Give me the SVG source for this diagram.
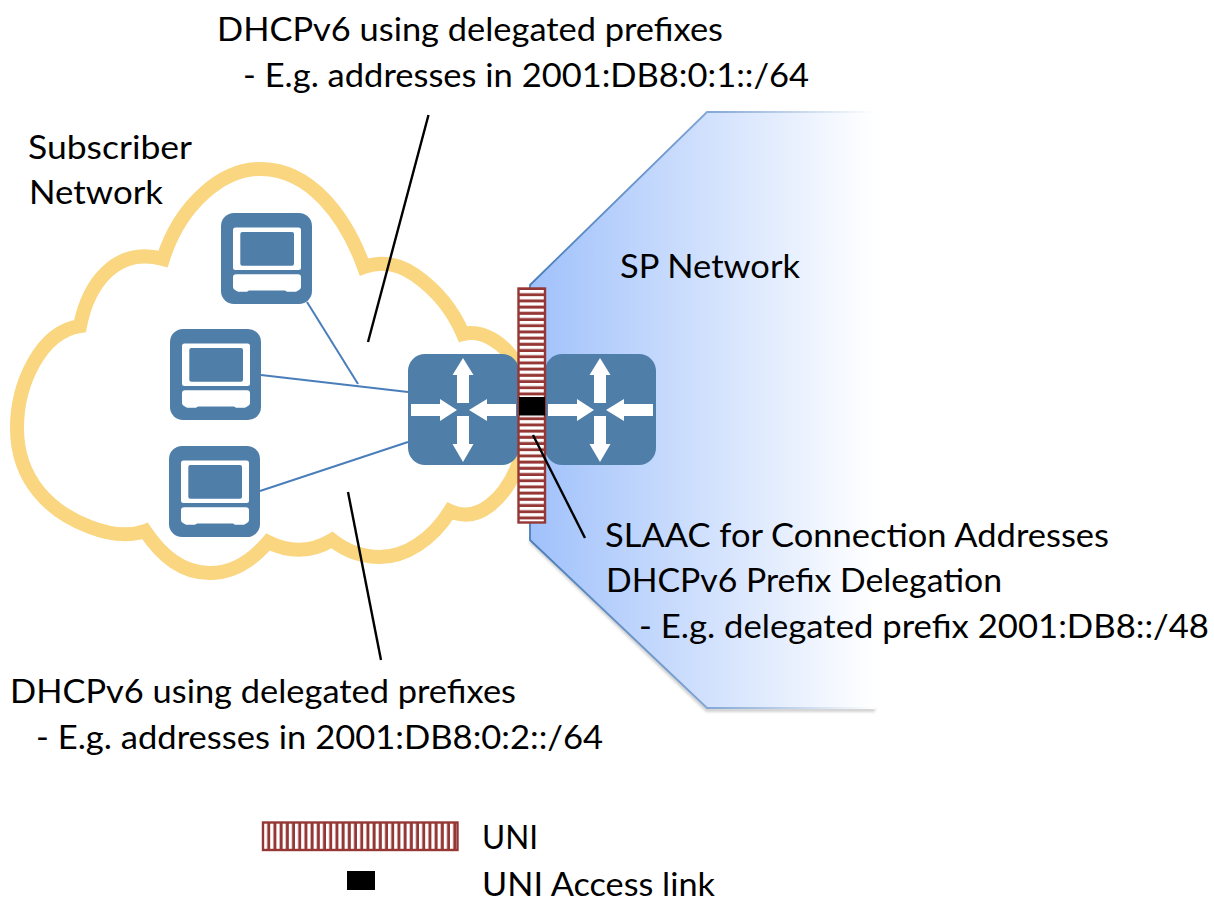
<svg xmlns="http://www.w3.org/2000/svg" xmlns:xlink="http://www.w3.org/1999/xlink" width="1214" height="903" viewBox="0 0 1214 903">
<style>
text{font-family:"Lato","Open Sans","Liberation Sans",sans-serif;font-size:32px;fill:#000}
.blue{stroke:#4a7ebb;stroke-width:2;fill:none}
.black{stroke:#000;stroke-width:2.400;fill:none}
.dev{fill:#4f7ea8}
.wh{fill:#fff}
</style>
<defs>
<linearGradient id="spFill" gradientUnits="userSpaceOnUse" x1="530" y1="0" x2="875" y2="0">
<stop offset="0" stop-color="#a0c1fb"/><stop offset="0.5" stop-color="#d0e0fd"/><stop offset="1" stop-color="#ffffff"/>
</linearGradient>
<linearGradient id="spStroke" gradientUnits="userSpaceOnUse" x1="530" y1="0" x2="875" y2="0">
<stop offset="0" stop-color="#4a7ebb"/><stop offset="0.5" stop-color="#7fa4d4"/><stop offset="1" stop-color="#ffffff"/>
</linearGradient>
<filter id="soft" x="-10%" y="-10%" width="120%" height="120%"><feGaussianBlur stdDeviation="1.500"/></filter>
<pattern id="uniH" patternUnits="userSpaceOnUse" x="0" y="290" width="10" height="6.200">
<rect width="10" height="6.200" fill="#fff"/><rect y="3.200" width="10" height="3" fill="#953735"/>
</pattern>
<pattern id="uniV" patternUnits="userSpaceOnUse" x="264" y="0" width="6.200" height="10">
<rect width="6.200" height="10" fill="#fff"/><rect x="3.200" width="3" height="10" fill="#953735"/>
</pattern>
<g id="laptop">
<rect class="dev" width="91" height="91" rx="13"/>
<rect class="wh" x="12" y="14.500" width="68" height="42.500" rx="2.500"/>
<rect class="dev" x="19.300" y="19" width="53.700" height="33.700" rx="2"/>
<path class="wh" d="M15 61.300H77Q80 61.300 80 64.300V74Q80 76 78 77L75 78.800H66L64 77.400H28L26 78.800H17L14 77Q12 76 12 74V64.300Q12 61.300 15 61.300Z"/>
</g>
<g id="router">
<rect class="dev" width="111" height="111" rx="17"/>
<path class="wh" d="M55 4L65.500 21H61V49H49V21H44.500Z"/>
<path class="wh" d="M55 108L65.500 90H61V62H49V90H44.500Z"/>
<path class="wh" d="M3 50H32V45L49 56L32 67V62H3Z"/>
<path class="wh" d="M108 50H79V45L61 56L79 67V62H108Z"/>
</g>
</defs>

<g id="sp-network">
<path d="M530 541L707 710H875" fill="none" stroke="#777" stroke-width="3" opacity="0.45" filter="url(#soft)"/>
<path d="M530 285L707 112H875V708H707L530 540Z" fill="url(#spFill)"/>
<path d="M875 112H707L530 285V540L707 708H875" fill="none" stroke="url(#spStroke)" stroke-width="1.800"/>
<text x="620" y="278" textLength="180" lengthAdjust="spacingAndGlyphs">SP Network</text>
</g>

<g id="subscriber-cloud">
<path fill="#fff" stroke="#f9d67f" stroke-width="14" d="M80 326C88 285 115 246 163 259C180 205 222 168 262 169C310 170 345 215 364 267C378 262 395 261 415 275C435 289 452 308 463 334C482 329 505 343 517 365C530 395 530 440 516 470C505 495 480 525 450 511C432 540 405 557 380 557C362 557 346 551 332 540C312 552 290 553 268 542C250 563 230 573 210 573C182 573 162 556 145 531C128 537 108 534 90 527C50 512 17 480 17 428C17 385 40 332 80 326Z"/>
<text x="28" y="159" textLength="164" lengthAdjust="spacingAndGlyphs">Subscriber</text>
<text x="29" y="204" textLength="134" lengthAdjust="spacingAndGlyphs">Network</text>
</g>

<g id="connectors">
<path class="blue" d="M307 302L358 384"/>
<path class="blue" d="M261 375L408 392"/>
<path class="blue" d="M260 491L408 442"/>
<path class="black" d="M428.500 115L368 342"/>
<path class="black" d="M348 492L381 660"/>
</g>

<use id="laptop-top" xlink:href="#laptop" href="#laptop" x="221" y="213"/>
<use id="laptop-middle" xlink:href="#laptop" href="#laptop" x="170" y="329"/>
<use id="laptop-bottom" xlink:href="#laptop" href="#laptop" x="169" y="446"/>
<use id="router-subscriber" xlink:href="#router" href="#router" x="408" y="354"/>
<use id="router-sp" xlink:href="#router" href="#router" x="545" y="354"/>

<g id="uni">
<rect x="518.500" y="288.500" width="26.500" height="234" fill="url(#uniH)" stroke="#953735" stroke-width="2.400"/>
<rect x="519" y="397" width="26" height="18.500" fill="#000"/>
<path class="black" d="M533 435L585 538"/>
</g>

<g id="labels">
<text x="217" y="41" textLength="506" lengthAdjust="spacingAndGlyphs">DHCPv6 using delegated prefixes</text>
<text x="243" y="87" textLength="566" lengthAdjust="spacingAndGlyphs">- E.g. addresses in 2001:DB8:0:1::/64</text>
<text x="605" y="547" textLength="504" lengthAdjust="spacingAndGlyphs">SLAAC for Connection Addresses</text>
<text x="606" y="592" textLength="396" lengthAdjust="spacingAndGlyphs">DHCPv6 Prefix Delegation</text>
<text x="639" y="638" textLength="570" lengthAdjust="spacingAndGlyphs">- E.g. delegated prefix 2001:DB8::/48</text>
<text x="10" y="703" textLength="506" lengthAdjust="spacingAndGlyphs">DHCPv6 using delegated prefixes</text>
<text x="36" y="749" textLength="567" lengthAdjust="spacingAndGlyphs">- E.g. addresses in 2001:DB8:0:2::/64</text>
</g>

<g id="legend">
<rect x="263" y="822.500" width="194.500" height="27.500" fill="url(#uniV)" stroke="#953735" stroke-width="2.400"/>
<rect x="347" y="871" width="28" height="19" fill="#000"/>
<text x="482" y="849" textLength="56" lengthAdjust="spacingAndGlyphs">UNI</text>
<text x="482" y="896" textLength="233" lengthAdjust="spacingAndGlyphs">UNI Access link</text>
</g>
</svg>
